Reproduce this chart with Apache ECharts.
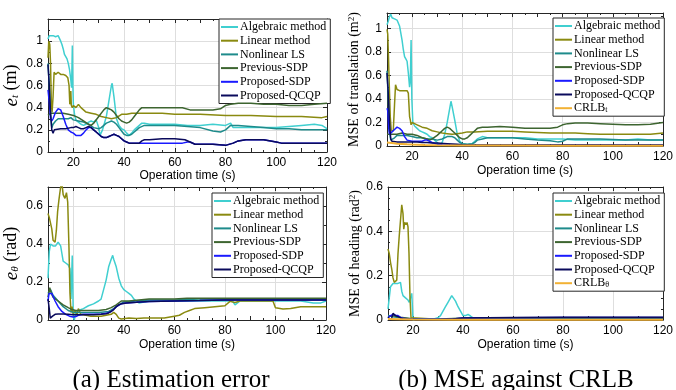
<!DOCTYPE html>
<html><head><meta charset="utf-8">
<script src="https://cdn.jsdelivr.net/npm/echarts@6/dist/echarts.min.js"></script>
<style>html,body{margin:0;padding:0;background:#fff}#c{width:676px;height:390px}</style>
</head><body><div id="c"></div><script>
// ---------- labels ----------
const NAMES = ['Algebraic method','Linear method','Nonlinear LS','Previous-SDP','Proposed-SDP','Proposed-QCQP'];
const CRLB_NAMES = ['CRLB_t','CRLB_θ'];
const xLabel = 'Operation time (s)';
const captions = ['(a) Estimation error','(b) MSE against CRLB'];
const xRange = [10,120];
const yMaxes = [1.2, 1.13, 0.7, 0.6];

// ---------- (a) top: e_t (m) ----------
const tlAlg = [[10,1.02],[10.5,1.05],[11,1.04],[12,1.05],[13,1.04],[14,1.05],[15,1.0],[15.5,0.97],[16,0.93],[16.5,0.88],[17,0.86],[17.5,0.84],[18,0.8],[18.5,0.74],[19,0.65],[19.3,0.58],[19.6,0.96],[19.8,0.6],[20,0.43],[20.5,0.33],[21,0.29],[22,0.27],[23,0.25],[24,0.24],[25,0.25],[26,0.27],[27,0.28],[28,0.27],[29,0.29],[30,0.22],[30.5,0.15],[31.5,0.2],[33,0.32],[34,0.46],[35,0.6],[35.3,0.62],[36,0.5],[37,0.3],[38,0.24],[39,0.21],[40,0.2],[41,0.17],[42,0.15],[43,0.17],[44,0.2],[45,0.22],[46,0.24],[47,0.26],[48,0.26],[50,0.25],[55,0.25],[60,0.25],[65,0.24],[70,0.24],[75,0.25],[80,0.24],[82,0.26],[83,0.22],[85,0.22],[90,0.22],[95,0.22],[100,0.22],[105,0.23],[110,0.24],[115,0.25],[118,0.24],[120,0.21]];
const tlLin = [[10,0.85],[10.3,1.0],[10.7,0.97],[11,0.8],[11.3,0.45],[11.6,0.36],[12,0.5],[12.4,0.72],[13,0.7],[14,0.72],[15,0.7],[16,0.7],[17,0.69],[17.8,0.67],[18.3,0.6],[18.6,0.43],[19,0.55],[19.2,0.42],[19.6,0.4],[20,0.42],[21,0.4],[22,0.43],[23,0.4],[24,0.38],[25,0.36],[27,0.35],[29,0.34],[31,0.32],[33,0.31],[35,0.3],[37,0.31],[39,0.34],[41,0.34],[43,0.35],[45,0.35],[50,0.35],[55,0.35],[60,0.34],[70,0.34],[80,0.33],[90,0.33],[100,0.32],[110,0.32],[118,0.31],[120,0.32]];
const tlNls = [[10,0.8],[10.5,0.6],[11,0.35],[11.5,0.22],[12,0.25],[13,0.28],[14,0.3],[16,0.3],[18,0.3],[19,0.31],[20,0.29],[22,0.28],[24,0.27],[26,0.25],[28,0.22],[30,0.21],[31,0.22],[32,0.24],[33,0.26],[34,0.27],[35,0.28],[36,0.27],[37,0.25],[38,0.22],[39,0.19],[40,0.16],[41,0.15],[42,0.15],[43,0.16],[44,0.18],[45,0.2],[46,0.22],[48,0.24],[50,0.24],[55,0.24],[60,0.24],[65,0.23],[70,0.22],[75,0.19],[78,0.18],[80,0.2],[82,0.24],[85,0.24],[90,0.23],[95,0.22],[100,0.21],[105,0.21],[110,0.2],[115,0.2],[120,0.2]];
const tlPrev = [[10,0.33],[11,0.35],[12,0.35],[14,0.35],[16,0.35],[18,0.34],[20,0.33],[22,0.31],[24,0.28],[26,0.25],[27,0.24],[28,0.26],[30,0.32],[32,0.38],[33,0.4],[34,0.39],[35,0.38],[36,0.36],[37,0.33],[38,0.3],[39,0.28],[40,0.27],[41,0.26],[42,0.27],[43,0.29],[44,0.32],[45,0.35],[46,0.38],[47,0.4],[50,0.4],[55,0.4],[60,0.4],[63,0.4],[66,0.38],[70,0.38],[75,0.38],[78,0.39],[80,0.42],[82,0.43],[85,0.44],[90,0.44],[95,0.43],[100,0.43],[105,0.42],[110,0.42],[115,0.43],[120,0.44]];
const tlPSDP = [[10,0.56],[10.5,0.45],[11,0.3],[11.5,0.28],[12,0.3],[13,0.36],[14,0.39],[14.5,0.4],[15,0.38],[16,0.32],[17,0.25],[18,0.2],[19,0.18],[20,0.17],[21,0.15],[22,0.15],[23,0.15],[24,0.17],[25,0.2],[26,0.22],[27,0.22],[28,0.2],[29,0.18],[30,0.16],[31,0.14],[32,0.13],[33,0.13],[34,0.14],[35,0.15],[36,0.16],[37,0.15],[38,0.14],[39,0.12],[40,0.1],[41,0.09],[42,0.08],[46,0.08],[48,0.08],[50,0.08],[55,0.08],[60,0.08],[63,0.08],[65,0.09],[66,0.09],[68,0.07],[75,0.07],[80,0.06],[83,0.08],[85,0.1],[88,0.11],[95,0.11],[100,0.09],[102,0.08],[110,0.08],[120,0.08]];
const tlQCQP = [[10,0.79],[10.5,0.6],[11,0.35],[11.5,0.2],[12,0.17],[12.5,0.2],[13,0.21],[15,0.21],[17,0.21],[19,0.22],[20,0.22],[21,0.23],[22,0.22],[23,0.21],[24,0.21],[25,0.22],[26,0.23],[27,0.22],[28,0.2],[29,0.18],[30,0.16],[31,0.14],[32,0.13],[33,0.13],[34,0.14],[35,0.15],[36,0.16],[37,0.15],[38,0.14],[39,0.12],[40,0.1],[41,0.09],[42,0.08],[44,0.08],[46,0.08],[47,0.1],[48,0.11],[50,0.11],[55,0.12],[60,0.12],[64,0.11],[66,0.09],[68,0.07],[75,0.07],[80,0.06],[83,0.08],[85,0.1],[88,0.11],[95,0.11],[100,0.09],[102,0.08],[110,0.08],[120,0.08]];

// ---------- (b) top: MSE of translation ----------
const trAlg = [[10,1.03],[10.5,1.06],[11,1.1],[11.5,1.12],[12,1.09],[13,1.08],[14,1.07],[15,1.02],[16,0.9],[16.5,0.82],[17,0.76],[17.5,0.74],[18,0.72],[18.5,0.62],[19,0.5],[19.3,0.55],[19.6,0.9],[19.9,0.4],[20.3,0.2],[21,0.17],[22,0.15],[23,0.13],[24,0.12],[25,0.11],[26,0.1],[27,0.08],[28,0.07],[29,0.05],[30,0.03],[31,0.01],[32,0.03],[33,0.1],[34,0.2],[35,0.32],[35.5,0.38],[36,0.33],[37,0.22],[38,0.1],[39,0.04],[40,0.02],[42,0.01],[44,0.02],[45,0.04],[46,0.06],[48,0.08],[50,0.07],[55,0.07],[60,0.07],[65,0.07],[70,0.06],[75,0.06],[80,0.06],[85,0.05],[90,0.05],[95,0.05],[100,0.05],[105,0.05],[110,0.06],[115,0.05],[120,0.05]];
const trLin = [[10,0.99],[10.3,0.95],[10.6,0.75],[11,0.45],[11.3,0.25],[11.7,0.13],[12,0.12],[12.5,0.13],[13,0.35],[13.4,0.52],[14,0.48],[15,0.47],[16,0.47],[17,0.47],[18,0.47],[18.5,0.45],[19,0.25],[19.3,0.22],[19.6,0.18],[20,0.2],[21,0.19],[22,0.18],[24,0.16],[26,0.15],[28,0.13],[30,0.12],[32,0.11],[34,0.105],[36,0.1],[38,0.105],[40,0.11],[42,0.12],[45,0.12],[50,0.125],[55,0.125],[60,0.125],[65,0.12],[70,0.115],[75,0.11],[80,0.11],[85,0.11],[90,0.105],[95,0.1],[100,0.1],[105,0.1],[110,0.1],[115,0.1],[120,0.11]];
const trNls = [[10,0.64],[10.5,0.4],[11,0.12],[11.5,0.05],[12,0.05],[13,0.07],[14,0.09],[15,0.09],[16,0.09],[18,0.09],[20,0.08],[22,0.07],[24,0.07],[26,0.06],[28,0.06],[30,0.05],[32,0.06],[33,0.07],[34,0.08],[36,0.08],[37,0.07],[38,0.05],[39,0.03],[40,0.02],[42,0.015],[44,0.02],[45,0.03],[46,0.05],[48,0.06],[50,0.07],[55,0.07],[60,0.07],[65,0.06],[70,0.05],[75,0.045],[78,0.035],[80,0.04],[82,0.06],[85,0.06],[90,0.06],[95,0.06],[100,0.055],[105,0.05],[110,0.05],[115,0.05],[120,0.05]];
const trPrev = [[10,0.1],[12,0.1],[14,0.1],[16,0.11],[18,0.1],[20,0.1],[22,0.09],[24,0.07],[26,0.06],[27,0.05],[28,0.06],[30,0.09],[32,0.13],[33,0.15],[34,0.16],[35,0.15],[36,0.13],[37,0.11],[38,0.09],[39,0.07],[40,0.06],[41,0.06],[42,0.07],[43,0.09],[44,0.11],[45,0.13],[46,0.15],[48,0.16],[50,0.16],[55,0.165],[60,0.16],[65,0.15],[70,0.15],[75,0.15],[78,0.16],[80,0.18],[82,0.19],[85,0.195],[90,0.195],[95,0.19],[100,0.185],[105,0.18],[110,0.18],[115,0.185],[120,0.2]];
const trPSDP = [[10,0.32],[10.3,0.3],[10.7,0.15],[11,0.1],[12,0.12],[13,0.14],[14,0.16],[15,0.15],[16,0.13],[17,0.08],[18,0.05],[20,0.04],[22,0.04],[24,0.04],[25,0.05],[26,0.05],[28,0.03],[30,0.015],[32,0.01],[35,0.008],[40,0.005],[50,0.005],[60,0.005],[80,0.005],[100,0.005],[120,0.005]];
const trQCQP = [[10,0.62],[10.5,0.45],[11,0.2],[11.5,0.06],[12,0.04],[14,0.035],[16,0.035],[18,0.035],[20,0.035],[22,0.035],[24,0.03],[26,0.03],[28,0.025],[30,0.025],[34,0.02],[38,0.015],[40,0.01],[45,0.008],[60,0.008],[80,0.008],[100,0.008],[120,0.008]];
const trCRLB = [[10,0.03],[12,0.025],[14,0.02],[16,0.017],[18,0.014],[20,0.012],[25,0.008],[30,0.006],[40,0.005],[60,0.004],[80,0.003],[100,0.003],[120,0.003]];

// ---------- (a) bottom: e_theta (rad) ----------
const blAlg = [[10,0.22],[10.5,0.36],[11,0.4],[12,0.39],[13,0.39],[14,0.41],[15,0.39],[15.5,0.35],[16,0.31],[17,0.3],[18,0.29],[18.7,0.27],[19.1,0.11],[19.6,0.34],[20,0.02],[20.4,0.0],[21,0.04],[22,0.05],[24,0.06],[26,0.075],[28,0.085],[30,0.1],[31,0.11],[32,0.16],[33,0.21],[34,0.28],[35,0.32],[35.6,0.34],[36,0.32],[37,0.28],[38,0.22],[39,0.18],[40,0.16],[41,0.15],[42,0.14],[43,0.13],[44,0.11],[45,0.1],[46,0.09],[48,0.095],[50,0.1],[55,0.1],[60,0.1],[65,0.1],[70,0.1],[75,0.1],[80,0.1],[83,0.1],[84,0.08],[86,0.1],[90,0.1],[95,0.1],[100,0.1],[105,0.1],[110,0.1],[115,0.09],[118,0.09],[120,0.1]];
const blLin = [[10,0.56],[10.5,0.54],[11,0.51],[11.5,0.48],[12,0.42],[12.8,0.41],[13.3,0.47],[13.8,0.57],[14.3,0.63],[15,0.7],[15.5,0.72],[16,0.66],[16.7,0.64],[17.3,0.67],[17.8,0.62],[18.3,0.38],[18.7,0.14],[19.1,0.04],[19.5,0.07],[20,0.03],[20.7,0.05],[21.5,0.03],[22,0.06],[23,0.03],[25,0.025],[27,0.02],[29,0.02],[31,0.02],[33,0.025],[35,0.03],[36,0.04],[37,0.03],[38,0.01],[39,0.005],[42,0.01],[45,0.008],[48,0.01],[52,0.01],[56,0.01],[60,0.02],[62,0.025],[64,0.04],[66,0.05],[68,0.06],[72,0.065],[76,0.07],[80,0.075],[82,0.098],[84,0.092],[86,0.1],[90,0.1],[95,0.1],[99,0.1],[100,0.065],[103,0.058],[106,0.06],[110,0.07],[115,0.07],[120,0.07]];
const blNls = [[10,0.14],[11,0.16],[12,0.13],[14,0.1],[16,0.07],[18,0.05],[20,0.04],[25,0.04],[30,0.04],[34,0.045],[36,0.06],[38,0.08],[40,0.095],[45,0.1],[50,0.105],[60,0.105],[70,0.11],[80,0.11],[90,0.11],[100,0.11],[110,0.11],[120,0.11]];
const blPrev = [[10,0.12],[10.7,0.17],[11.3,0.14],[12,0.12],[13,0.11],[14,0.1],[16,0.08],[18,0.065],[19.5,0.055],[21,0.05],[25,0.05],[30,0.05],[33,0.055],[35,0.065],[37,0.08],[39,0.1],[42,0.1],[46,0.105],[50,0.11],[55,0.11],[60,0.11],[65,0.115],[70,0.115],[75,0.115],[80,0.115],[85,0.115],[90,0.115],[95,0.115],[100,0.115],[105,0.115],[110,0.115],[115,0.115],[120,0.115]];
const blPSDP = [[10,0.1],[10.4,0.14],[11,0.15],[11.5,0.14],[12,0.13],[12.8,0.1],[14,0.07],[15.5,0.045],[17,0.03],[18.5,0.02],[20,0.016],[21,0.018],[22,0.025],[24,0.03],[28,0.03],[31,0.032],[33,0.035],[35,0.045],[37,0.07],[39,0.085],[41,0.09],[45,0.093],[50,0.097],[60,0.1],[70,0.102],[80,0.105],[90,0.105],[100,0.105],[110,0.105],[120,0.105]];
const blQCQP = [[10,0.11],[10.5,0.06],[10.9,0.01],[11.3,0.0],[11.8,0.02],[12.8,0.03],[14,0.032],[16,0.032],[18,0.03],[20,0.028],[22,0.028],[25,0.028],[28,0.028],[31,0.03],[33,0.033],[34,0.037],[35,0.045],[36,0.055],[37,0.07],[38,0.08],[39,0.085],[41,0.09],[45,0.093],[50,0.097],[60,0.1],[70,0.102],[80,0.105],[90,0.105],[100,0.105],[110,0.105],[120,0.105]];

// ---------- (b) bottom: MSE of heading ----------
const brAlg = [[10,0.05],[10.5,0.1],[11,0.15],[12,0.165],[13,0.165],[14,0.165],[15,0.17],[15.5,0.13],[16,0.11],[17,0.1],[18,0.09],[18.5,0.08],[19,0.085],[19.5,0.12],[19.8,0.05],[20,0.0],[21,0.003],[25,0.003],[28,0.003],[30,0.01],[31,0.02],[32,0.04],[33,0.06],[34,0.08],[35,0.1],[35.5,0.11],[36,0.105],[37,0.085],[38,0.06],[39,0.04],[40,0.02],[41,0.02],[42,0.025],[43,0.018],[44,0.01],[46,0.005],[50,0.005],[60,0.005],[70,0.005],[80,0.005],[90,0.005],[100,0.005],[110,0.005],[120,0.005]];
const brLin = [[10,0.32],[10.5,0.3],[11,0.26],[11.5,0.23],[12,0.19],[12.5,0.17],[13,0.17],[13.5,0.18],[14,0.3],[14.5,0.38],[15,0.45],[15.5,0.52],[16,0.48],[16.3,0.41],[16.7,0.44],[17.2,0.43],[17.6,0.44],[18,0.42],[18.4,0.3],[18.8,0.1],[19.2,0.01],[20,0.003],[30,0.003],[40,0.003],[60,0.003],[80,0.003],[100,0.003],[120,0.003]];
const brNls = [[10,0.02],[12,0.015],[15,0.01],[20,0.005],[30,0.004],[40,0.007],[50,0.008],[60,0.008],[80,0.008],[100,0.008],[120,0.008]];
const brPrev = [[10,0.015],[12,0.02],[15,0.012],[20,0.005],[30,0.004],[40,0.008],[50,0.01],[60,0.01],[80,0.01],[100,0.01],[120,0.01]];
const brPSDP = [[10,0.01],[11,0.02],[12,0.025],[13,0.022],[14,0.02],[15,0.012],[16,0.008],[18,0.005],[20,0.003],[30,0.003],[36,0.005],[40,0.009],[50,0.01],[60,0.01],[80,0.011],[100,0.011],[120,0.011]];
const brQCQP = [[10,0.012],[10.5,0.005],[11,0.0],[11.5,0.01],[12,0.03],[13,0.02],[14,0.015],[16,0.005],[20,0.001],[30,0.001],[36,0.004],[40,0.009],[50,0.01],[60,0.011],[80,0.012],[100,0.012],[120,0.012]];
const brCRLB = [[10,0.004],[20,0.002],[40,0.001],[60,0.001],[80,0.001],[100,0.001],[120,0.001]];

// ---------- styling ----------
const COLORS = ['#40CFD0','#8A8A10','#1E8B8B','#3D6530','#1A1AFF','#0A0A5C'];
const CRLB_COLOR = '#F2B134';
const AX = '#262626';
const GRIDC = '#dedede';
const SERIF = 'Liberation Serif';
const SANS = 'Liberation Sans';

const grids = [
  {left:48, top:19, width:279, height:133},
  {left:387, top:13, width:281, height:133},
  {left:48, top:187, width:278, height:133},
  {left:388, top:187, width:280, height:133}
];
const yMinor = [2,2,2,4];
const yShowMax = [false,false,false,true];
const xNameGap = [18,19,19,19];
const yNameGap = [27,24,27,25];
const yNames = ['{i|e}{s|t} (m)','MSE of translation (m{p|2})','{i|e}{s|θ} (rad)','MSE of heading (rad{p|2})'];
const yNameSize = [18,14,18,14];

const xAxes = [], yAxes = [];
for (let g = 0; g < 4; g++) {
  xAxes.push({
    type:'value', gridIndex:g, min:xRange[0], max:xRange[1], interval:10, position:'bottom',
    name:xLabel, nameLocation:'middle', nameGap:xNameGap[g],
    nameTextStyle:{fontFamily:SANS, fontSize:12, color:'#000'},
    axisLine:{show:true, onZero:false, lineStyle:{color:AX, width:1}},
    axisTick:{show:true, inside:true, length:4, lineStyle:{color:AX}},
    minorTick:{show:true, splitNumber:2, length:2, lineStyle:{color:AX}},
    axisLabel:{margin:5, fontFamily:SANS, fontSize:12, color:'#000',
      formatter:v => (v % 20 === 0 ? String(v) : ''), showMinLabel:false},
    splitLine:{show:true, lineStyle:{color:['rgba(0,0,0,0)', GRIDC], width:1}}
  });
  yAxes.push({
    type:'value', gridIndex:g, min:0, max:yMaxes[g], interval:0.2, position:'left',
    name:yNames[g], nameLocation:'middle', nameGap:yNameGap[g], nameRotate:90,
    nameTextStyle:{fontFamily:SERIF, fontSize:yNameSize[g], color:'#000',
      rich:{
        i:{fontFamily:SERIF, fontStyle:'italic', fontSize:yNameSize[g]+1, color:'#000'},
        s:{fontFamily:SERIF, fontStyle:'italic', fontSize:11, color:'#000', verticalAlign:'bottom'},
        p:{fontFamily:SERIF, fontSize:9, color:'#000', verticalAlign:'top'}
      }},
    axisLine:{show:true, onZero:false, lineStyle:{color:AX, width:1}},
    axisTick:{show:true, inside:true, length:4, lineStyle:{color:AX}},
    minorTick:{show:true, splitNumber:yMinor[g], length:2, lineStyle:{color:AX}},
    axisLabel:{margin:5, fontFamily:SANS, fontSize:12, color:'#000', showMaxLabel:yShowMax[g]},
    splitLine:{show:true, lineStyle:{color:GRIDC, width:1}}
  });
}
for (let g = 0; g < 4; g++) {
  xAxes.push({
    type:'value', gridIndex:g, min:xRange[0], max:xRange[1], interval:10, position:'top',
    axisLine:{show:true, onZero:false, lineStyle:{color:AX, width:1}},
    axisTick:{show:true, inside:true, length:4, lineStyle:{color:AX}},
    minorTick:{show:true, splitNumber:2, length:2, lineStyle:{color:AX}},
    axisLabel:{show:false}, splitLine:{show:false}
  });
  yAxes.push({
    type:'value', gridIndex:g, min:0, max:yMaxes[g], interval:0.2, position:'right',
    axisLine:{show:true, onZero:false, lineStyle:{color:AX, width:1}},
    axisTick:{show:true, inside:true, length:4, lineStyle:{color:AX}},
    minorTick:{show:true, splitNumber:yMinor[g], length:2, lineStyle:{color:AX}},
    axisLabel:{show:false}, splitLine:{show:false}
  });
}

const panelData = [
  [tlAlg, tlLin, tlNls, tlPrev, tlPSDP, tlQCQP],
  [trAlg, trLin, trNls, trPrev, trPSDP, trQCQP],
  [blAlg, blLin, blNls, blPrev, blPSDP, blQCQP],
  [brAlg, brLin, brNls, brPrev, brPSDP, brQCQP]
];
const series = [];
panelData.forEach((arr, g) => {
  arr.forEach((d, k) => {
    series.push({type:'line', name:NAMES[k], data:d, xAxisIndex:g, yAxisIndex:g,
      symbol:'none', smooth:false, silent:true, animation:false,
      lineStyle:{color:COLORS[k], width:1.5}, itemStyle:{color:COLORS[k]}, z:2+k});
  });
});
series.push({type:'line', name:CRLB_NAMES[0], data:trCRLB, xAxisIndex:1, yAxisIndex:1, symbol:'none', silent:true, animation:false,
  lineStyle:{color:CRLB_COLOR, width:2}, itemStyle:{color:CRLB_COLOR}, z:10});
series.push({type:'line', name:CRLB_NAMES[1], data:brCRLB, xAxisIndex:3, yAxisIndex:3, symbol:'none', silent:true, animation:false,
  lineStyle:{color:CRLB_COLOR, width:2}, itemStyle:{color:CRLB_COLOR}, z:10});

const legendPos = [[219,19],[553,18],[212,193],[553,193]];
const legends = legendPos.map((p, g) => ({
  orient:'vertical', left:p[0], top:p[1], selectedMode:false,
  data: g === 1 ? NAMES.concat([CRLB_NAMES[0]]) : g === 3 ? NAMES.concat([CRLB_NAMES[1]]) : NAMES.slice(),
  icon:'rect', itemWidth:17, itemHeight:2, itemGap:1.7,
  padding:[2,4,2,2], backgroundColor:'#fff', borderColor:AX, borderWidth:1, borderRadius:0,
  formatter: n => n === 'CRLB_t' ? 'CRLB{s|t}' : n === 'CRLB_θ' ? 'CRLB{s|θ}' : n,
  textStyle:{fontFamily:SERIF, fontSize:12, color:'#000', padding:[0,0,0,-3],
    rich:{s:{fontFamily:SERIF, fontSize:8, color:'#000', verticalAlign:'bottom'}}}
}));

const chart = echarts.init(document.getElementById('c'), null, {renderer:'canvas'});
chart.setOption({
  animation:false,
  backgroundColor:'#fff',
  grid:grids,
  xAxis:xAxes,
  yAxis:yAxes,
  legend:legends,
  series:series,
  graphic:[
    {type:'text', x:171, y:380, style:{text:captions[0], font:'25px "Liberation Serif"', fill:'#000', align:'center', verticalAlign:'middle', textAlign:'center', textVerticalAlign:'middle'}},
    {type:'text', x:516, y:380, style:{text:captions[1], font:'25px "Liberation Serif"', fill:'#000', align:'center', verticalAlign:'middle', textAlign:'center', textVerticalAlign:'middle'}}
  ]
});
</script></body></html>
